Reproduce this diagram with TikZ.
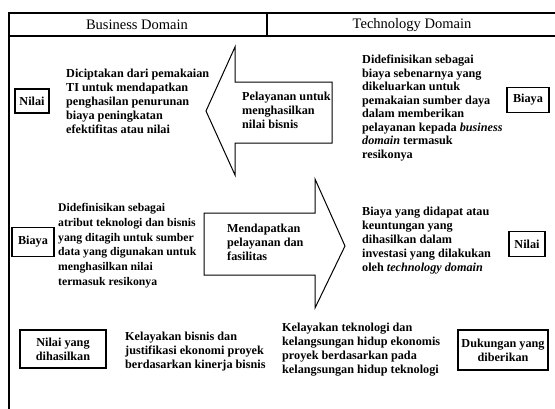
\documentclass[tikz,border=0pt]{standalone}
\usepackage{fontspec}
\setmainfont{Liberation Serif}
\begin{document}
\begin{tikzpicture}[x=1pt,y=-1pt,
  txt/.style={anchor=north west, inner sep=0pt, align=left, font=\bfseries\fontsize{12.2}{14}\selectfont},
  lbl/.style={draw, line width=1.5pt, inner sep=0pt, align=center, font=\bfseries\fontsize{12.2}{14}\selectfont},
  hdr/.style={font=\fontsize{14.5}{16}\selectfont, inner sep=0pt},
  frame/.style={line width=2pt},
  arr/.style={draw, line width=1pt, line join=miter}]
\useasboundingbox (0,0) rectangle (555,408);
% frame and header
\draw[frame] (556,13) -- (9,13) -- (9,410);
\draw[frame] (8,36) -- (556,36);
\draw[frame] (267,13) -- (267,36);
\node[hdr] (hb) at (137,25) {Business Domain};
\node[hdr] (ht) at (412,25) {Technology Domain};
% arrows
\path[arr] (332,82) -- (235,82) -- (235,47) -- (206,111) -- (235,175) -- (235,143) -- (332,143) -- cycle;
\path[arr] (204,213) -- (315,213) -- (315,179) -- (345,246) -- (315,308) -- (315,275) -- (204,275) -- cycle;
% row 1
\node[lbl, minimum width=34pt, minimum height=24pt] (nilaiL) at (32,101) {Nilai};
\node[txt] (tA) at (66,69) {Diciptakan dari pemakaian\\TI untuk mendapatkan\\penghasilan penurunan\\biaya peningkatan\\efektifitas atau nilai};
\node[txt] (tB) at (242,92) {Pelayanan untuk\\menghasilkan\\nilai bisnis};
\node[txt, font=\bfseries\fontsize{12.2}{13.5}\selectfont] (tC) at (362,55) {Didefinisikan sebagai\\biaya sebenarnya yang\\dikeluarkan untuk\\pemakaian sumber daya\\dalam memberikan\\pelayanan kepada \textit{business}\\\textit{domain} termasuk\\resikonya};
\node[lbl, minimum width=42pt, minimum height=25pt] (biayaR) at (528,100) {Biaya};
% row 2
\node[lbl, minimum width=42pt, minimum height=29pt] (biayaL) at (33,242) {Biaya};
\node[txt, font=\bfseries\fontsize{11.7}{14.8}\selectfont] (tD) at (58,203) {Didefinisikan sebagai\\atribut teknologi dan bisnis\\yang ditagih untuk sumber\\data yang digunakan untuk\\menghasilkan nilai\\termasuk resikonya};
\node[txt] (tE) at (227,224) {Mendapatkan\\pelayanan dan\\fasilitas};
\node[txt] (tF) at (362,207) {Biaya yang didapat atau\\keuntungan yang\\dihasilkan dalam\\investasi yang dilakukan\\oleh \textit{technology domain}};
\node[lbl, minimum width=36pt, minimum height=25pt] (nilaiR) at (527,244) {Nilai};
% row 3
\node[lbl, minimum width=86pt, minimum height=38pt] (nyd) at (63,349) {Nilai yang\\dihasilkan};
\node[txt] (tG) at (125,332) {Kelayakan bisnis dan\\justifikasi ekonomi proyek\\berdasarkan kinerja bisnis};
\node[txt] (tH) at (282,323) {Kelayakan teknologi dan\\kelangsungan hidup ekonomis\\proyek berdasarkan pada\\kelangsungan hidup teknologi};
\node[lbl, minimum width=90pt, minimum height=40pt] (dyd) at (503,350) {Dukungan yang\\diberikan};
\end{tikzpicture}
\end{document}
